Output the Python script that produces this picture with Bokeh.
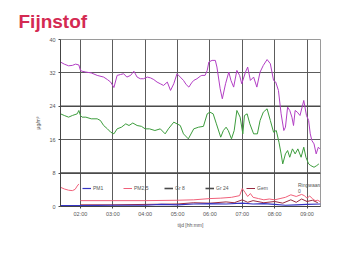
import numpy as np
import pandas as pd
from bokeh.plotting import figure
from bokeh.models import (FixedTicker, DatetimeTickFormatter, Legend, LegendItem)
from bokeh.embed import file_html
from bokeh.resources import INLINE

# ---------------- data ----------------
DAY = "2000-01-01 "
x_start, x_end = "01:23", "09:25"
hour_ticks = ["02:00", "03:00", "04:00", "05:00", "06:00", "07:00", "08:00", "09:00"]
y_ticks = [0, 8, 16, 24, 32, 40]
limits = [24, 8]
chart_title = "Fijnstof"

purple_t = ["01:23", "01:30", "01:38", "01:45", "01:51", "01:57", "02:00", "02:03", "02:10", "02:20",
            "02:31", "02:43", "02:50", "02:56", "03:02", "03:08", "03:14", "03:20", "03:26", "03:33",
            "03:39", "03:45", "03:51", "03:57", "04:04", "04:10", "04:16", "04:22", "04:28", "04:34",
            "04:41", "04:47", "04:53", "04:59", "05:05", "05:11", "05:16", "05:21", "05:26", "05:30",
            "05:36", "05:42", "05:45", "05:51", "05:55", "05:58", "06:04", "06:10", "06:13", "06:19",
            "06:23", "06:29", "06:35", "06:39", "06:44", "06:50", "06:55", "06:59", "07:06", "07:10",
            "07:15", "07:21", "07:27", "07:33", "07:39", "07:46", "07:52", "07:58", "08:02", "08:07",
            "08:12", "08:17", "08:20", "08:24", "08:28", "08:32", "08:35", "08:38", "08:42", "08:47",
            "08:54", "08:59", "09:03", "09:06", "09:09", "09:13", "09:17", "09:21", "09:24"]
purple_v = [34.6, 34.1, 33.7, 33.8, 34.1, 33.9, 32.6, 32.4, 32.2, 32.0,
            31.4, 31.0, 30.4, 29.8, 28.5, 31.4, 31.6, 31.8, 31.0, 31.4,
            32.4, 31.0, 30.6, 30.6, 31.0, 30.8, 30.4, 29.8, 29.4, 29.0,
            29.8, 27.8, 29.4, 31.8, 31.0, 30.2, 29.2, 28.6, 29.6, 30.2,
            30.6, 31.2, 31.4, 31.4, 32.6, 34.6, 35.0, 35.0, 33.4, 28.2,
            25.8, 29.4, 32.2, 30.2, 28.6, 32.6, 31.4, 29.4, 32.2, 33.4,
            30.2, 31.0, 28.6, 32.2, 33.8, 35.2, 34.2, 30.2, 29.8, 27.8,
            22.2, 18.2, 19.0, 23.8, 23.0, 21.4, 19.4, 23.0, 22.6, 21.8,
            25.4, 21.8, 20.6, 17.4, 15.8, 15.0, 12.6, 14.2, 13.8]

green_t = ["01:23", "01:30", "01:38", "01:45", "01:54", "01:57", "02:00", "02:03", "02:10", "02:20",
           "02:31", "02:37", "02:43", "02:50", "02:56", "03:02", "03:08", "03:16", "03:24", "03:30",
           "03:37", "03:45", "03:53", "04:00", "04:08", "04:18", "04:28", "04:37", "04:43", "04:53",
           "04:59", "05:05", "05:11", "05:20", "05:30", "05:39", "05:48", "05:55", "06:00", "06:06",
           "06:12", "06:20", "06:25", "06:30", "06:34", "06:40", "06:45", "06:50", "06:56", "07:01",
           "07:04", "07:09", "07:14", "07:21", "07:28", "07:33", "07:39", "07:46", "07:52", "07:58",
           "08:03", "08:08", "08:12", "08:15", "08:20", "08:24", "08:28", "08:33", "08:38", "08:43",
           "08:49", "08:54", "08:58", "09:03", "09:07", "09:13", "09:18", "09:22"]
green_v = [22.2, 21.8, 21.4, 21.8, 22.2, 23.0, 21.8, 21.4, 21.4, 21.0,
           21.0, 20.6, 19.4, 18.6, 17.8, 17.4, 18.6, 19.0, 19.8, 19.4,
           20.0, 19.4, 19.2, 18.6, 18.6, 18.2, 18.6, 17.4, 18.6, 20.2,
           19.8, 19.4, 17.4, 16.2, 18.6, 19.0, 19.2, 22.2, 22.6, 22.2,
           19.8, 16.6, 18.2, 19.0, 18.2, 16.2, 18.2, 23.0, 21.4, 17.4,
           21.8, 22.2, 19.8, 17.4, 17.4, 20.6, 22.6, 23.4, 20.6, 17.8,
           18.2, 15.4, 12.6, 10.2, 12.6, 13.4, 11.8, 13.8, 12.6, 13.8,
           11.8, 14.2, 11.8, 10.2, 9.8, 9.4, 9.8, 10.2]

red_t = ["01:23", "01:30", "01:38", "01:45", "01:50", "01:54", "01:57", "01:58", "02:00", "03:00",
         "04:00", "05:00", "05:30", "06:00", "06:20", "06:40", "06:55", "07:00", "07:05", "07:10",
         "07:15", "07:20", "07:30", "07:40", "07:50", "08:00", "08:10", "08:20", "08:30", "08:40",
         "08:50", "08:55", "09:00", "09:05", "09:10", "09:15", "09:20", "09:25"]
red_v = [4.6, 4.2, 3.9, 3.8, 4.1, 4.9, 5.4, np.nan, 1.4, 1.4,
         1.4, 1.5, 1.6, 1.9, 2.0, 2.2, 2.6, 4.3, 3.4, 2.4,
         3.1, 2.2, 1.9, 1.6, 1.8, 1.6, 1.9, 2.2, 2.8, 2.4,
         2.9, 2.6, 2.0, 2.5, 1.9, 1.4, 1.5, 1.1]

dark_t = ["02:00", "03:00", "04:00", "05:00", "05:30", "06:00", "06:30", "06:45", "07:00", "07:10",
          "07:20", "07:40", "08:00", "08:15", "08:30", "08:40", "08:50", "09:00", "09:10", "09:20"]
dark_v = [0.4, 0.4, 0.5, 0.6, 0.9, 0.8, 1.1, 0.9, 1.6, 1.0,
          1.4, 0.9, 1.2, 0.8, 1.6, 1.0, 1.8, 1.2, 1.5, 0.9]

blue_t = ["01:23", "02:00", "03:00", "04:00", "04:30", "05:00", "05:30", "06:00", "06:30", "07:00",
          "07:20", "07:40", "08:00", "08:20", "08:40", "09:00", "09:25"]
blue_v = [0.2, 0.2, 0.3, 0.3, 0.5, 0.4, 0.6, 0.7, 0.6, 0.8,
          0.6, 0.7, 0.5, 0.3, 0.4, 0.5, 0.6]

legend_labels = ["PM1", "PM2,5", "Gr 8", "Gr 24", "Gem"]
slider_label = "Ringwaarde/interval [min]"
slider_value = "0"


def ts(lst):
    return pd.to_datetime([DAY + s for s in lst])


FONT = "Liberation Sans"
GRID = "#5c5c5c"

p = figure(frame_width=260, frame_height=167, output_backend="svg", toolbar_location=None,
           x_axis_type="datetime",
           x_range=(ts([x_start])[0], ts([x_end])[0]), y_range=(0, 40),
           min_border_left=60, min_border_right=30, min_border_top=39, min_border_bottom=0,
           background_fill_color="white", border_fill_color="white")
p.outline_line_color = "#9a9a9a"

p.title.text = chart_title
p.title.align = "left"
p.title.offset = -42
p.title.standoff = 15
p.title.text_font = FONT
p.title.text_font_size = "19px"
p.title.text_font_style = "bold"
p.title.text_color = "#d42a52"

p.xaxis.ticker = FixedTicker(ticks=[t.value / 1e6 for t in ts(hour_ticks)])
p.xaxis.formatter = DatetimeTickFormatter(hours="%H:%M", minutes="%H:%M", hourmin="%H:%M",
                                          days="%H:%M")
p.yaxis.ticker = FixedTicker(ticks=y_ticks)
for ax in (p.xaxis[0], p.yaxis[0]):
    ax.major_label_text_font = FONT
    ax.major_label_text_font_size = "5.5px"
    ax.major_label_text_color = "#555555"
    ax.axis_label_text_font = FONT
    ax.axis_label_text_font_size = "5px"
    ax.axis_label_text_font_style = "normal"
    ax.axis_label_text_color = "#555555"
    ax.axis_line_color = "#444444"
    ax.major_tick_line_color = "#444444"
    ax.major_tick_out = 2
    ax.major_tick_in = 0
    ax.minor_tick_line_color = None
    ax.major_label_standoff = 3
p.xaxis.axis_label = "tijd [hh:mm]"
p.yaxis.axis_label = "\u00b5g/m\u00b3"
p.xaxis.major_label_standoff = 2
p.xaxis.axis_label_standoff = 2
p.yaxis.axis_label_standoff = 5

p.xgrid.grid_line_color = GRID
p.ygrid.grid_line_color = GRID
p.xgrid.grid_line_width = 1
p.ygrid.grid_line_width = 1

lim_rs = []
for lv in limits:
    lim_rs.append(p.line(ts([x_start, x_end]), [lv, lv], line_color="#4a4a4a", line_width=1.6))

r_purple = p.line(ts(purple_t), purple_v, line_color="#b23ec4", line_width=1)
r_green = p.line(ts(green_t), green_v, line_color="#3c9c3c", line_width=1)
r_red = p.line(ts(red_t), red_v, line_color="#f0607a", line_width=1)
r_dark = p.line(ts(dark_t), dark_v, line_color="#9a2a40", line_width=1)
r_blue = p.line(ts(blue_t), blue_v, line_color="#3434c4", line_width=1.2)
r_slider = p.line(ts([x_start]), [0], line_alpha=0)

legend = Legend(items=[
    LegendItem(label=legend_labels[0], renderers=[r_blue]),
    LegendItem(label=legend_labels[1], renderers=[r_red]),
    LegendItem(label=legend_labels[2], renderers=[lim_rs[1]]),
    LegendItem(label=legend_labels[3], renderers=[lim_rs[0]]),
    LegendItem(label=legend_labels[4], renderers=[r_dark]),
    LegendItem(label=slider_label + "\n" + slider_value, renderers=[r_slider]),
], orientation="horizontal", location=(22, 12),
    label_text_font=FONT, label_text_font_size="5px", label_text_color="#555555",
    glyph_width=9, glyph_height=6, label_height=6, label_standoff=2, spacing=10,
    padding=0, margin=0, border_line_color=None, background_fill_alpha=0)
p.add_layout(legend)

open("out.html", "w").write(file_html(p, INLINE))
